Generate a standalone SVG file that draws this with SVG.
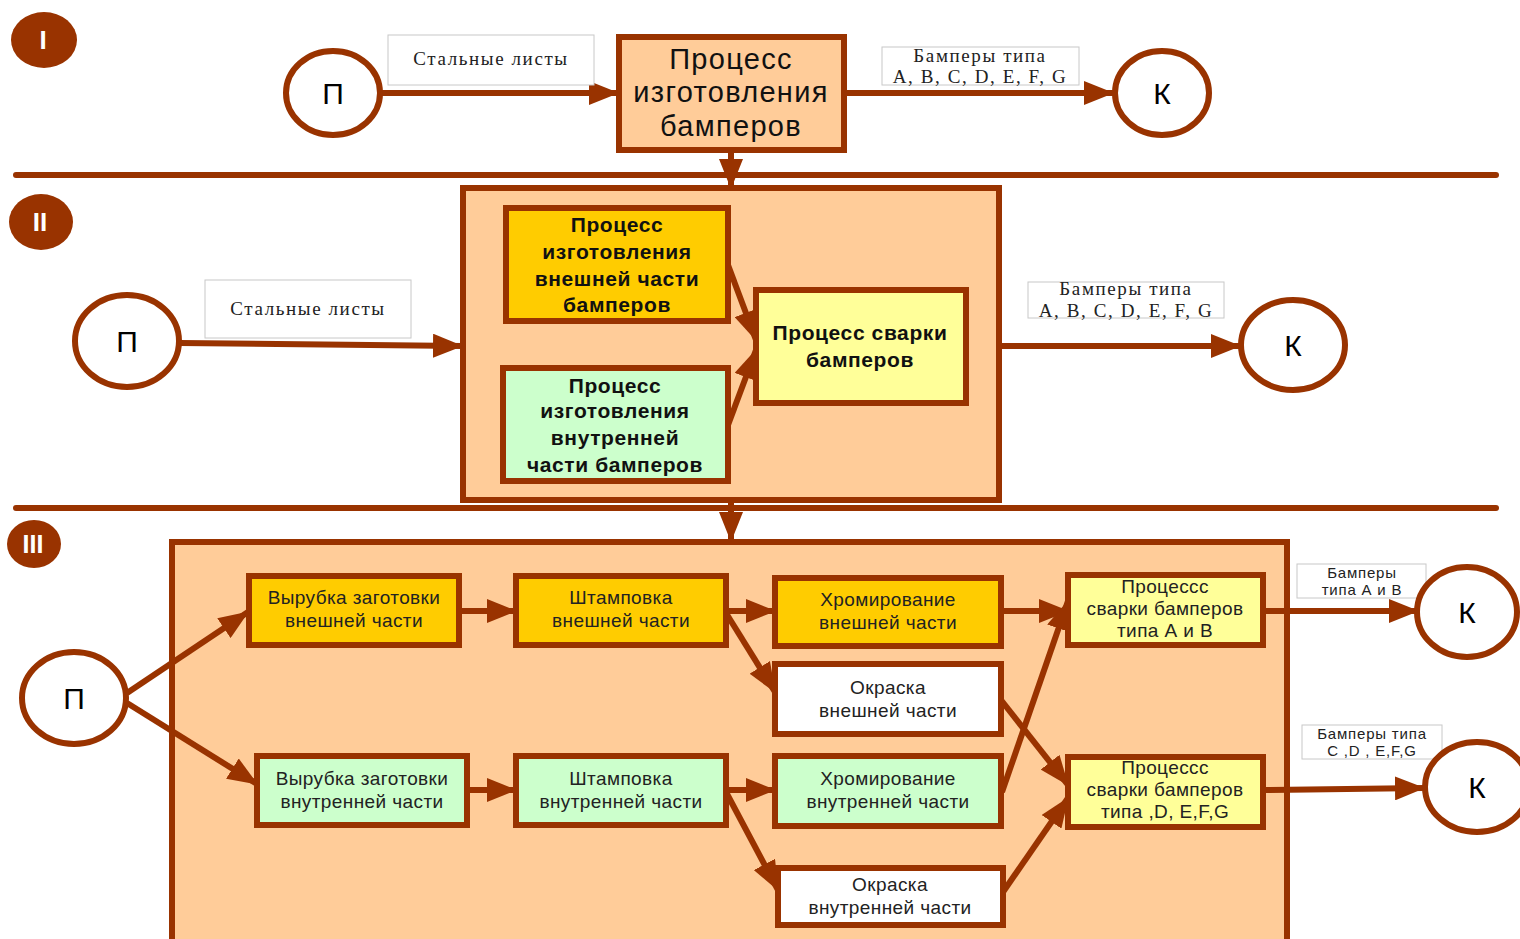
<svg xmlns="http://www.w3.org/2000/svg" width="1520" height="939" viewBox="0 0 1520 939">
<defs>
<marker id="ah" markerUnits="userSpaceOnUse" markerWidth="30" markerHeight="24" refX="29" refY="12" orient="auto">
<path d="M0,0 L30,12 L0,24 z" fill="#993300"/>
</marker>
<style>
.line{stroke:#993300;stroke-width:6;fill:none;stroke-linecap:round}
.conn{stroke:#993300;stroke-width:6;fill:none;marker-end:url(#ah)}
.circ{fill:#ffffff;stroke:#993300;stroke-width:6}
.badge{fill:#993300}
.bt{font-family:"Liberation Sans",Arial,sans-serif;font-weight:bold;fill:#ffffff;text-anchor:middle}
.ct{font-family:"Liberation Sans",Arial,sans-serif;font-size:30px;fill:#000;text-anchor:middle}
.lbl{fill:#ffffff;stroke:#c8c8c8;stroke-width:1}
.lt{font-family:"Liberation Serif","Times New Roman",serif;font-size:19px;fill:#222;text-anchor:middle;letter-spacing:1.6px}
.lt2{font-family:"Liberation Sans",Arial,sans-serif;font-size:15px;fill:#222;text-anchor:middle;letter-spacing:0.8px}
.box{stroke:#993300;stroke-width:6}
.peach{fill:#ffcc99}
.orange{fill:#ffcc00}
.green{fill:#ccffcc}
.yellow{fill:#ffff99}
.white{fill:#ffffff}
.t1{font-family:"Liberation Sans",Arial,sans-serif;font-size:29px;fill:#111;text-anchor:middle;letter-spacing:1.3px}
.t2{font-family:"Liberation Sans",Arial,sans-serif;font-size:21px;font-weight:bold;fill:#111;text-anchor:middle;letter-spacing:0.6px}
.t3{font-family:"Liberation Sans",Arial,sans-serif;font-size:19px;fill:#222;text-anchor:middle;letter-spacing:0.4px}
</style>
</defs>
<rect width="1520" height="939" fill="#ffffff"/>

<!-- Separators and containers -->
<g id="separators">
<line class="line" x1="16" y1="175" x2="1496" y2="175"/>
<line class="line" x1="16" y1="508" x2="1496" y2="508"/>
</g>
<g id="container-II"><rect class="box peach" x="463" y="188" width="536" height="312"/></g>
<g id="container-III"><rect class="box peach" x="172" y="542" width="1115" height="410"/></g>

<!-- Badges -->
<g id="badge-I"><ellipse class="badge" cx="44" cy="40" rx="33" ry="28"/><text class="bt" x="43" y="49" font-size="26">I</text></g>
<g id="badge-II"><ellipse class="badge" cx="41" cy="222" rx="32" ry="28"/><text class="bt" x="40" y="231" font-size="26">II</text></g>
<g id="badge-III"><ellipse class="badge" cx="34" cy="544" rx="27" ry="24"/><text class="bt" x="33" y="553" font-size="25">III</text></g>

<!-- Connectors -->
<g id="connectors">
<line class="conn" x1="381" y1="93" x2="618" y2="93"/>
<line class="conn" x1="844" y1="93" x2="1113" y2="93"/>
<line class="conn" x1="731" y1="150" x2="731" y2="188"/>
<line class="conn" x1="180" y1="343" x2="462" y2="346"/>
<line class="conn" x1="728" y1="265" x2="756" y2="340"/>
<line class="conn" x1="728" y1="425" x2="756" y2="350"/>
<line class="conn" x1="999" y1="346" x2="1240" y2="346"/>
<line class="conn" x1="731" y1="500" x2="731" y2="541"/>

<line class="conn" x1="127" y1="693" x2="248" y2="612"/>
<line class="conn" x1="127" y1="703" x2="257" y2="784"/>
<line class="conn" x1="459" y1="611" x2="516" y2="611"/>
<line class="conn" x1="726" y1="611" x2="775" y2="611"/>
<line class="conn" x1="726" y1="613" x2="775" y2="692"/>
<line class="conn" x1="1001" y1="611" x2="1068" y2="611"/>
<line class="conn" x1="1001" y1="700" x2="1068" y2="785"/>
<line class="conn" x1="467" y1="790" x2="516" y2="790"/>
<line class="conn" x1="726" y1="790" x2="775" y2="790"/>
<line class="conn" x1="726" y1="792" x2="778" y2="890"/>
<line class="conn" x1="1002" y1="792" x2="1068" y2="601"/>
<line class="conn" x1="1003" y1="892" x2="1068" y2="798"/>
<line class="conn" x1="1263" y1="611" x2="1418" y2="611"/>
<line class="conn" x1="1263" y1="790" x2="1424" y2="788"/>
</g>

<!-- Section I -->
<g id="I-P"><ellipse class="circ" cx="333" cy="93" rx="47" ry="42"/><text class="ct" x="333" y="104">П</text></g>
<g id="I-label-in"><rect class="lbl" x="388" y="35" width="206" height="50"/><text class="lt" x="491" y="65">Стальные листы</text></g>
<g id="I-process"><rect class="box peach" x="619" y="37" width="225" height="113"/>
<text class="t1" x="731" y="69">Процесс</text><text class="t1" x="731" y="102">изготовления</text><text class="t1" x="731" y="136">бамперов</text></g>
<g id="I-label-out"><rect class="lbl" x="882" y="47" width="197" height="38"/><text class="lt" x="980" y="62">Бамперы типа</text><text class="lt" x="980" y="83">A, B, C, D, E, F, G</text></g>
<g id="I-K"><ellipse class="circ" cx="1162" cy="93" rx="47" ry="42"/><text class="ct" x="1162" y="104">К</text></g>

<!-- Section II -->
<g id="II-P"><ellipse class="circ" cx="127" cy="341" rx="52" ry="46"/><text class="ct" x="127" y="352">П</text></g>
<g id="II-label-in"><rect class="lbl" x="205" y="280" width="206" height="58"/><text class="lt" x="308" y="315">Стальные листы</text></g>
<g id="II-outer"><rect class="box orange" x="506" y="208" width="222" height="113"/>
<text class="t2" x="617" y="232">Процесс</text><text class="t2" x="617" y="259">изготовления</text><text class="t2" x="617" y="286">внешней части</text><text class="t2" x="617" y="312">бамперов</text></g>
<g id="II-inner"><rect class="box green" x="503" y="368" width="225" height="113"/>
<text class="t2" x="615" y="393">Процесс</text><text class="t2" x="615" y="418">изготовления</text><text class="t2" x="615" y="445">внутренней</text><text class="t2" x="615" y="472">части бамперов</text></g>
<g id="II-weld"><rect class="box yellow" x="756" y="290" width="210" height="113"/>
<text class="t2" x="860" y="340">Процесс сварки</text><text class="t2" x="860" y="367">бамперов</text></g>
<g id="II-label-out"><rect class="lbl" x="1028" y="282" width="196" height="36"/><text class="lt" x="1126" y="295">Бамперы типа</text><text class="lt" x="1126" y="317">A, B, C, D, E, F, G</text></g>
<g id="II-K"><ellipse class="circ" cx="1293" cy="345" rx="52" ry="45"/><text class="ct" x="1293" y="356">К</text></g>

<!-- Section III -->
<g id="III-P"><ellipse class="circ" cx="74" cy="698" rx="52" ry="46"/><text class="ct" x="74" y="709">П</text></g>
<g id="III-cut-outer"><rect class="box orange" x="249" y="576" width="210" height="69"/>
<text class="t3" x="354" y="604">Вырубка заготовки</text><text class="t3" x="354" y="627">внешней части</text></g>
<g id="III-stamp-outer"><rect class="box orange" x="516" y="576" width="210" height="69"/>
<text class="t3" x="621" y="604">Штамповка</text><text class="t3" x="621" y="627">внешней части</text></g>
<g id="III-chrome-outer"><rect class="box orange" x="775" y="578" width="226" height="68"/>
<text class="t3" x="888" y="606">Хромирование</text><text class="t3" x="888" y="629">внешней части</text></g>
<g id="III-weld-AB"><rect class="box yellow" x="1068" y="575" width="195" height="70"/>
<text class="t3" x="1165" y="593">Процессс</text><text class="t3" x="1165" y="615">сварки бамперов</text><text class="t3" x="1165" y="637">типа А и В</text></g>
<g id="III-paint-outer"><rect class="box white" x="775" y="664" width="226" height="70"/>
<text class="t3" x="888" y="694">Окраска</text><text class="t3" x="888" y="717">внешней части</text></g>
<g id="III-cut-inner"><rect class="box green" x="257" y="756" width="210" height="69"/>
<text class="t3" x="362" y="785">Вырубка заготовки</text><text class="t3" x="362" y="808">внутренней части</text></g>
<g id="III-stamp-inner"><rect class="box green" x="516" y="756" width="210" height="69"/>
<text class="t3" x="621" y="785">Штамповка</text><text class="t3" x="621" y="808">внутренней части</text></g>
<g id="III-chrome-inner"><rect class="box green" x="775" y="756" width="226" height="70"/>
<text class="t3" x="888" y="785">Хромирование</text><text class="t3" x="888" y="808">внутренней части</text></g>
<g id="III-weld-DG"><rect class="box yellow" x="1068" y="757" width="195" height="70"/>
<text class="t3" x="1165" y="774">Процессс</text><text class="t3" x="1165" y="796">сварки бамперов</text><text class="t3" x="1165" y="818">типа ,D, E,F,G</text></g>
<g id="III-paint-inner"><rect class="box white" x="778" y="868" width="225" height="57"/>
<text class="t3" x="890" y="891">Окраска</text><text class="t3" x="890" y="914">внутренней части</text></g>
<g id="III-label-AB"><rect class="lbl" x="1297" y="564" width="129" height="34"/><text class="lt2" x="1362" y="578">Бамперы</text><text class="lt2" x="1362" y="595">типа А и В</text></g>
<g id="III-label-DG"><rect class="lbl" x="1302" y="725" width="140" height="34"/><text class="lt2" x="1372" y="739">Бамперы типа</text><text class="lt2" x="1372" y="756">C ,D , E,F,G</text></g>
<g id="III-K1"><ellipse class="circ" cx="1467" cy="612" rx="50" ry="45"/><text class="ct" x="1467" y="623">К</text></g>
<g id="III-K2"><ellipse class="circ" cx="1477" cy="787" rx="52" ry="45"/><text class="ct" x="1477" y="798">К</text></g>
</svg>
